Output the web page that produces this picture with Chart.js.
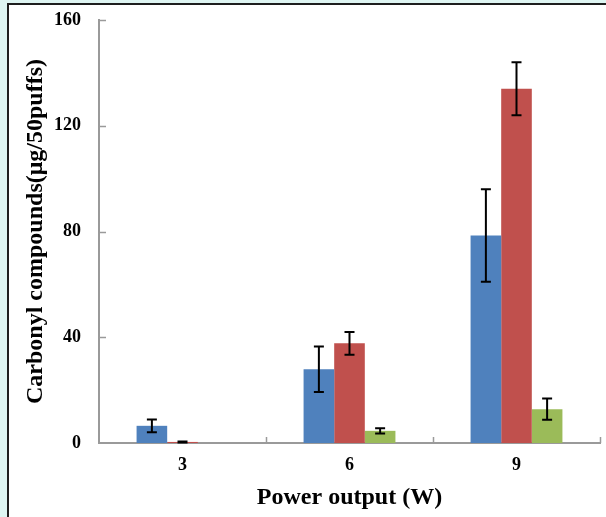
<!DOCTYPE html>
<html>
<head>
<meta charset="utf-8">
<script src="https://cdn.jsdelivr.net/npm/chart.js@4.4.1/dist/chart.umd.min.js"></script>
<style>
    html, body { margin: 0; padding: 0; }
    body {
        width: 606px;
        height: 517px;
        overflow: hidden;
        position: relative;
        background: #def5f2;
    }
    .panel {
        position: absolute;
        left: 7px;
        top: 3px;
        width: 640px;
        height: 560px;
        background: #fff;
        border: 2px solid #1e1e1e;
    }
    #carbonylChart {
        position: absolute;
        left: 0;
        top: 0;
    }
</style>
</head>
<body>
<div class="panel"></div>
<canvas id="carbonylChart" width="606" height="517"></canvas>

<script>
// ================= DATOS =================
const powerLabels = ["3", "6", "9"];

const blueValues = [6.5, 27.9, 78.5];
const blueErrors = [2.4, 8.6, 17.5];

const redValues = [0.4, 37.7, 134];
const redErrors = [0.2, 4.3, 10];

const greenValues = [null, 4.6, 12.8];
const greenErrors = [null, 1.0, 4.0];

const yTicks = [0, 40, 80, 120, 160];


// ================= PLUGINS =================
// barras de error, centradas en cada barra
const errorBars = {
    id: 'errorBars',
    afterDatasetsDraw(chart) {
        const ctx = chart.ctx;
        const y = chart.scales.y;

        ctx.save();
        ctx.strokeStyle = '#000';
        ctx.lineWidth = 2;

        chart.data.datasets.forEach((ds, i) => {
            const meta = chart.getDatasetMeta(i);
            meta.data.forEach((bar, j) => {
                const v = ds.data[j];
                const e = ds.errors[j];
                if (v === null || e === null) return;

                const top = y.getPixelForValue(v + e);
                const bottom = y.getPixelForValue(Math.max(0, v - e));
                const cx = bar.x;

                ctx.beginPath();
                ctx.moveTo(cx, top);
                ctx.lineTo(cx, bottom);
                ctx.moveTo(cx - 5, top);
                ctx.lineTo(cx + 5, top);
                ctx.moveTo(cx - 5, bottom);
                ctx.lineTo(cx + 5, bottom);
                ctx.stroke();
            });
        });
        ctx.restore();
    }
};

// marcas de escala hacia dentro del área
const innerTicks = {
    id: 'innerTicks',
    afterDraw(chart) {
        const ctx = chart.ctx;
        const {x, y} = chart.scales;

        ctx.save();
        ctx.strokeStyle = '#9a9a9a';
        ctx.lineWidth = 1.5;
        ctx.beginPath();

        yTicks.forEach(t => {
            if (t === 0) return;
            const py = Math.round(y.getPixelForValue(t)) + 0.5;
            ctx.moveTo(x.left, py);
            ctx.lineTo(x.left + 7, py);
        });

        for (let i = 1; i <= powerLabels.length; i++) {
            const px = Math.round(x.getPixelForValue(i - 0.5)) + 0.5;
            ctx.moveTo(px, y.bottom);
            ctx.lineTo(px, y.bottom - 6);
        }

        ctx.stroke();
        ctx.restore();
    }
};


// ================= GRÁFICA =================
Chart.defaults.font.family = "'Liberation Serif', 'Times New Roman', serif";
Chart.defaults.font.weight = 'bold';
Chart.defaults.color = '#000';

const ctx = document.getElementById("carbonylChart");

const carbonylChart = new Chart(ctx, {
    type: 'bar',
    data: {
        labels: powerLabels,
        datasets: [
            {
                data: blueValues,
                errors: blueErrors,
                backgroundColor: '#4f81bd'
            },
            {
                data: redValues,
                errors: redErrors,
                backgroundColor: '#c0504d'
            },
            {
                data: greenValues,
                errors: greenErrors,
                backgroundColor: '#9bbb59'
            }
        ]
    },
    options: {
        responsive: false,
        animation: false,
        devicePixelRatio: 1,
        layout: {
            padding: { top: 20, right: 6, left: 0, bottom: 0 }
        },
        datasets: {
            bar: {
                categoryPercentage: 0.55,
                barPercentage: 1.0
            }
        },
        plugins: {
            legend: { display: false },
            tooltip: { enabled: false }
        },
        scales: {
            x: {
                grid: { display: false, drawTicks: false },
                border: { color: '#9a9a9a', width: 2 },
                ticks: {
                    padding: 12,
                    font: { size: 18, weight: 'bold' }
                },
                title: {
                    display: true,
                    text: 'Power output (W)',
                    padding: { top: 0, bottom: 5 },
                    font: { size: 24, weight: 'bold' }
                },
                afterFit(scale) {
                    scale.height = 74;
                }
            },
            y: {
                min: 0,
                max: 160,
                grid: { display: false, drawTicks: false },
                border: { color: '#9a9a9a', width: 2 },
                afterBuildTicks(scale) {
                    scale.ticks = yTicks.map(v => ({ value: v }));
                },
                ticks: {
                    padding: 18,
                    font: { size: 18, weight: 'bold' }
                },
                title: {
                    display: true,
                    text: 'Carbonyl compounds(μg/50puffs)',
                    padding: { top: 21, bottom: 0 },
                    font: { size: 24, weight: 'bold' }
                },
                afterFit(scale) {
                    scale.width = 99;
                    // el margen superior lo fija layout.padding
                    scale.paddingTop = 0;
                    scale.paddingBottom = 0;
                }
            }
        }
    },
    plugins: [errorBars, innerTicks]
});
</script>
</body>
</html>
